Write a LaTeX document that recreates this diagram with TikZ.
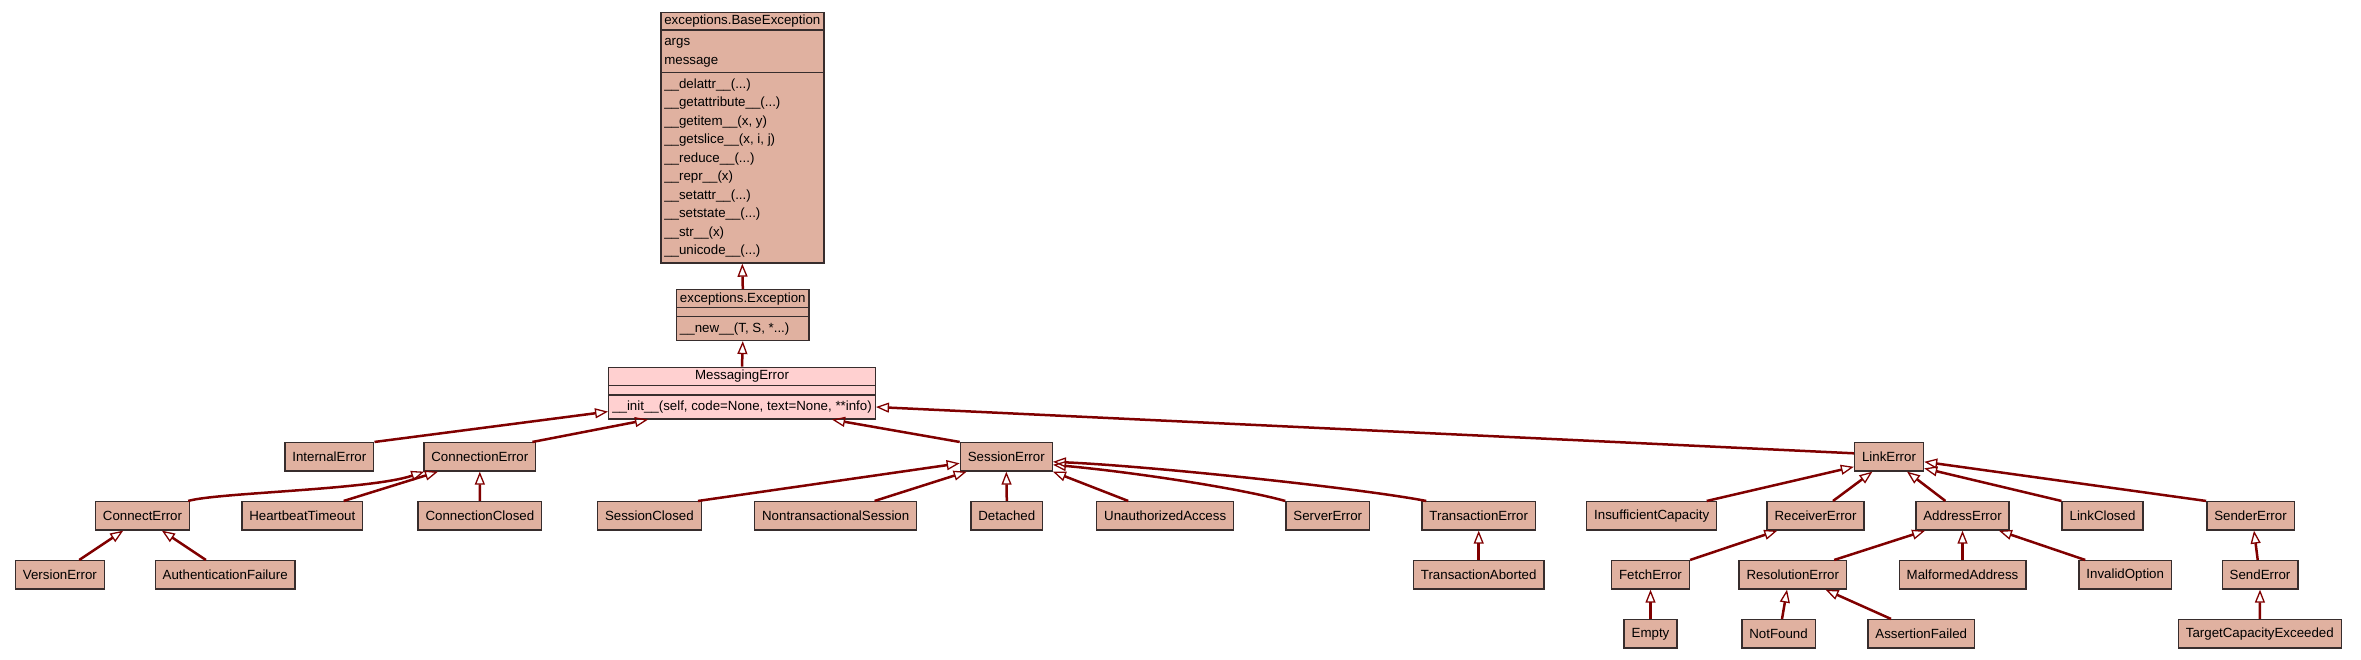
\documentclass[tikz,border=0pt]{standalone}
\usepackage{fontspec}
\setmainfont{Liberation Sans}
\usetikzlibrary{shapes.multipart, arrows.meta, positioning}
\definecolor{clsfill}{RGB}{224,177,160}
\definecolor{msgfill}{RGB}{255,208,208}
\definecolor{edgecol}{RGB}{128,0,0}
\definecolor{boxline}{RGB}{55,45,45}
\tikzset{
every node/.style={font=\fontsize{13.3}{18.5}\selectfont}, % 10pt text at 96 dpi
cls/.style={draw=boxline, line width=1.4pt, fill=clsfill, minimum height=28.3pt, inner xsep=7.5pt, inner ysep=2pt}, % plain class box
umlcls/.style={draw=boxline, line width=1.4pt, fill=clsfill, rectangle split, rectangle split parts=3,
  rectangle split part align={center,left,left}, inner xsep=3.5pt, inner ysep=2pt, anchor=north}, % class with members
inherit/.style={draw=edgecol, line width=2.5pt, -{Triangle[open, length=13pt, width=10pt, line width=1.3pt]}}, % child to parent
}
\begin{document}
\begin{tikzpicture}[x=1pt, y=-1pt]
  \useasboundingbox (0,0) rectangle (2361,659);

  \node[umlcls] (base) at (742.3,11.7) {exceptions.BaseException
    \nodepart{second}\begin{tabular}{@{}l@{}}args\\message\end{tabular}
    \nodepart{third}\begin{tabular}{@{}l@{}}\_\_delattr\_\_(...)\\\_\_getattribute\_\_(...)\\\_\_getitem\_\_(x, y)\\\_\_getslice\_\_(x, i, j)\\\_\_reduce\_\_(...)\\\_\_repr\_\_(x)\\\_\_setattr\_\_(...)\\\_\_setstate\_\_(...)\\\_\_str\_\_(x)\\\_\_unicode\_\_(...)\end{tabular}};
  \node[umlcls] (exc) at (742.8,289) {exceptions.Exception
    \nodepart{second}\rule{0pt}{3.6pt}
    \nodepart{third}\strut\_\_new\_\_(T, S, *...)};
  \node[umlcls, fill=msgfill] (msg) at (742,366.7) {MessagingError
    \nodepart{second}\rule{0pt}{4.4pt}
    \nodepart{third}\strut\_\_init\_\_(self, code=None, text=None, **info)};

  % first row
  \node[cls] (internal) at (329.3,456.8) {InternalError};
  \node[cls] (connerr) at (479.8,456.8) {ConnectionError};
  \node[cls] (sesserr) at (1006.3,456.8) {SessionError};
  \node[cls] (linkerr) at (1889,456.8) {LinkError};

  % second row
  \node[cls] (connecterr) at (142.5,515.8) {ConnectError};
  \node[cls] (heartbeat) at (302.3,515.8) {HeartbeatTimeout};
  \node[cls] (connclosed) at (479.9,515.8) {ConnectionClosed};
  \node[cls] (sessclosed) at (649.4,515.8) {SessionClosed};
  \node[cls] (nontrans) at (835.7,515.8) {NontransactionalSession};
  \node[cls] (detached) at (1006.8,515.8) {Detached};
  \node[cls] (unauth) at (1165.2,515.8) {UnauthorizedAccess};
  \node[cls] (server) at (1327.8,515.8) {ServerError};
  \node[cls] (transerr) at (1478.7,515.8) {TransactionError};
  \node[cls] (insuff) at (1651.7,515.8) {InsufficientCapacity};
  \node[cls] (receiver) at (1815.5,515.8) {ReceiverError};
  \node[cls] (address) at (1962.5,515.8) {AddressError};
  \node[cls] (linkclosed) at (2102.5,515.8) {LinkClosed};
  \node[cls] (sender) at (2250.5,515.8) {SenderError};

  % third row
  \node[cls] (version) at (59.9,574.8) {VersionError};
  \node[cls] (auth) at (225.2,574.8) {AuthenticationFailure};
  \node[cls] (transabort) at (1478.7,574.8) {TransactionAborted};
  \node[cls] (fetch) at (1650.5,574.8) {FetchError};
  \node[cls] (resolution) at (1792.8,574.8) {ResolutionError};
  \node[cls] (malformed) at (1962.5,574.8) {MalformedAddress};
  \node[cls] (invalid) at (2125.2,574.8) {InvalidOption};
  \node[cls] (send) at (2260,574.8) {SendError};

  % fourth row
  \node[cls] (empty) at (1650.5,633.8) {Empty};
  \node[cls] (notfound) at (1778.5,633.8) {NotFound};
  \node[cls] (assertion) at (1921.2,633.8) {AssertionFailed};
  \node[cls] (target) at (2259.8,633.8) {TargetCapacityExceeded};

  \draw[inherit] (exc.north) -- (base.south);
  \draw[inherit] (msg.north) -- (exc.south);
  \draw[inherit] (internal.north east) -- ([yshift=8pt]msg.south west);
  \draw[inherit] ([xshift=-4pt]connerr.north east) -- ([xshift=-94pt]msg.south);
  \draw[inherit] (sesserr.north west) -- ([xshift=90pt]msg.south);
  \draw[inherit] ([yshift=3.5pt]linkerr.west) -- ([yshift=12.6pt]msg.south east);

  \draw[inherit] ([xshift=-2pt]connecterr.north east) .. controls +(27.5,-8.3) and +(-54.8,18.3) .. ([xshift=1pt]connerr.south west);
  \draw[inherit] ([xshift=41.4pt]heartbeat.north) -- ([xshift=-41.8pt]connerr.south);
  \draw[inherit] (connclosed.north) -- (connerr.south);
  \draw[inherit] ([xshift=19.3pt]version.north) -- ([xshift=-19.3pt]connecterr.south);
  \draw[inherit] ([xshift=-19.3pt]auth.north) -- ([xshift=19.4pt]connecterr.south);

  \draw[inherit] ([xshift=-4pt]sessclosed.north east) -- ([yshift=-6.5pt]sesserr.west);
  \draw[inherit] ([xshift=38.9pt]nontrans.north) -- ([xshift=7pt]sesserr.south west);
  \draw[inherit] (detached.north) -- (sesserr.south);
  \draw[inherit] ([xshift=-37pt]unauth.north) -- (sesserr.south east);
  \draw[inherit] (server.north west) .. controls +(-45.7,-12.7) and +(77.7,7) .. ([yshift=-8pt]sesserr.east);
  \draw[inherit] ([xshift=5pt]transerr.north west) .. controls +(-65.7,-12.7) and +(97.7,4.3) .. ([yshift=-5pt]sesserr.east);
  \draw[inherit] (transabort.north) -- (transerr.south);

  \draw[inherit] ([xshift=-10.7pt]insuff.north east) -- ([yshift=-10pt]linkerr.west);
  \draw[inherit] ([xshift=17.5pt]receiver.north) -- ([xshift=-16.6pt]linkerr.south);
  \draw[inherit] ([xshift=-17.1pt]address.north) -- ([xshift=18pt]linkerr.south);
  \draw[inherit] (linkclosed.north west) -- ([yshift=-11.5pt]linkerr.east);
  \draw[inherit] (sender.north west) -- ([yshift=-5pt]linkerr.east);
  \draw[inherit] (fetch.north east) -- ([xshift=11pt]receiver.south west);
  \draw[inherit] ([xshift=-13pt]resolution.north east) -- ([xshift=10pt]address.south west);
  \draw[inherit] (malformed.north) -- (address.south);
  \draw[inherit] ([xshift=7pt]invalid.north west) -- ([xshift=-11pt]address.south east);
  \draw[inherit] ([xshift=-2.3pt]send.north) -- ([xshift=3.5pt]sender.south);
  \draw[inherit] (empty.north) -- (fetch.south);
  \draw[inherit] ([xshift=3.5pt]notfound.north) -- ([xshift=-5.8pt]resolution.south);
  \draw[inherit] ([xshift=-30.2pt]assertion.north) -- ([xshift=32.7pt]resolution.south);
  \draw[inherit] (target.north) -- (send.south);
\end{tikzpicture}
\end{document}
